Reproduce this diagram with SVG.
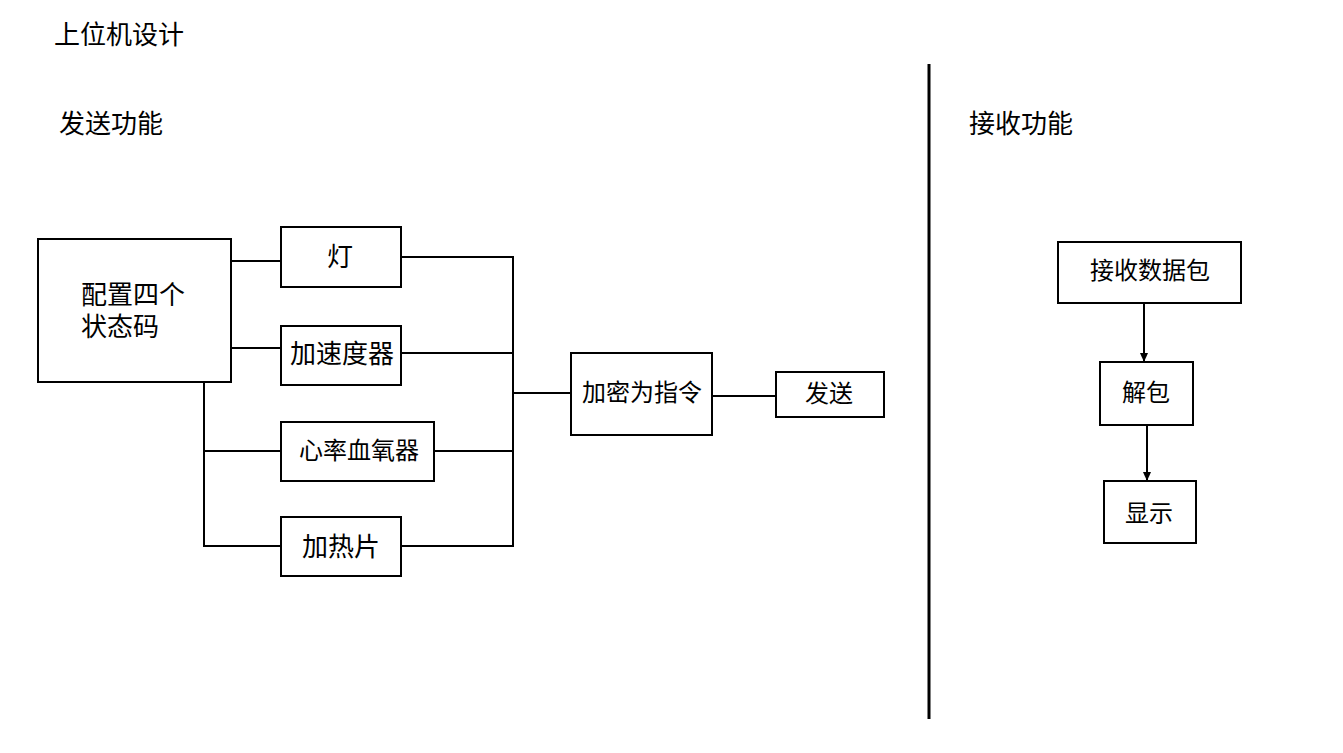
<svg xmlns="http://www.w3.org/2000/svg" width="1343" height="753" viewBox="0 0 1343 753">
<style>
.box{fill:#fff;stroke:#000;stroke-width:2}
.ln{fill:none;stroke:#000;stroke-width:2}
text{font-family:"Noto Sans CJK SC","Noto Sans",sans-serif;fill:#000;dominant-baseline:central}
.t{font-size:26px}
.n{font-size:24px;text-anchor:middle}
.n26{font-size:26px;text-anchor:middle}
</style>
<defs>
<marker id="ah" markerWidth="10" markerHeight="10" refX="9" refY="5" orient="auto" markerUnits="userSpaceOnUse">
<path d="M0,1 L9,5 L0,9 Z" fill="#000"/>
</marker>
</defs>
<rect width="1343" height="753" fill="#fff"/>
<g id="titles">
<text class="t" x="54" y="32">上位机设计</text>
<text class="t" x="59" y="121">发送功能</text>
<text class="t" x="969" y="121">接收功能</text>
</g>
<g id="divider"><line x1="929" y1="64" x2="929" y2="719" stroke="#000" stroke-width="3"/></g>
<g id="connectors">
<line class="ln" x1="231" y1="261" x2="281" y2="261"/>
<line class="ln" x1="231" y1="348" x2="281" y2="348"/>
<polyline class="ln" points="204,382 204,546 281,546"/>
<line class="ln" x1="204" y1="451" x2="281" y2="451"/>
<line class="ln" x1="401" y1="257" x2="513" y2="257"/>
<line class="ln" x1="401" y1="353" x2="513" y2="353"/>
<line class="ln" x1="434" y1="451" x2="513" y2="451"/>
<line class="ln" x1="401" y1="546" x2="513" y2="546"/>
<line class="ln" x1="513" y1="256" x2="513" y2="547"/>
<line class="ln" x1="513" y1="393" x2="571" y2="393"/>
<line class="ln" x1="712" y1="396" x2="776" y2="396"/>
<line class="ln" x1="1144" y1="303" x2="1144" y2="362" marker-end="url(#ah)"/>
<line class="ln" x1="1147" y1="425" x2="1147" y2="481" marker-end="url(#ah)"/>
</g>
<g id="node-config"><rect class="box" x="38" y="239" width="193" height="143"/>
<text class="t" x="81" y="292">配置四个<tspan x="81" dy="32">状态码</tspan></text></g>
<g id="node-light"><rect class="box" x="281" y="227" width="120" height="60"/><text class="n26" x="340" y="254">灯</text></g>
<g id="node-accel"><rect class="box" x="281" y="326" width="120" height="59"/><text class="n26" x="342" y="351">加速度器</text></g>
<g id="node-hr"><rect class="box" x="281" y="422" width="153" height="59"/><text class="n" x="359" y="448">心率血氧器</text></g>
<g id="node-heat"><rect class="box" x="281" y="517" width="120" height="59"/><text class="n26" x="341" y="544">加热片</text></g>
<g id="node-encrypt"><rect class="box" x="571" y="353" width="141" height="82"/><text class="n" x="642" y="390">加密为指令</text></g>
<g id="node-send"><rect class="box" x="776" y="372" width="108" height="45"/><text class="n" x="829" y="391">发送</text></g>
<g id="node-recv"><rect class="box" x="1058" y="242" width="183" height="61"/><text class="n" x="1150" y="268">接收数据包</text></g>
<g id="node-unpack"><rect class="box" x="1100" y="362" width="93" height="63"/><text class="n" x="1146" y="390">解包</text></g>
<g id="node-display"><rect class="box" x="1104" y="481" width="92" height="62"/><text class="n" x="1149" y="511">显示</text></g>
</svg>
